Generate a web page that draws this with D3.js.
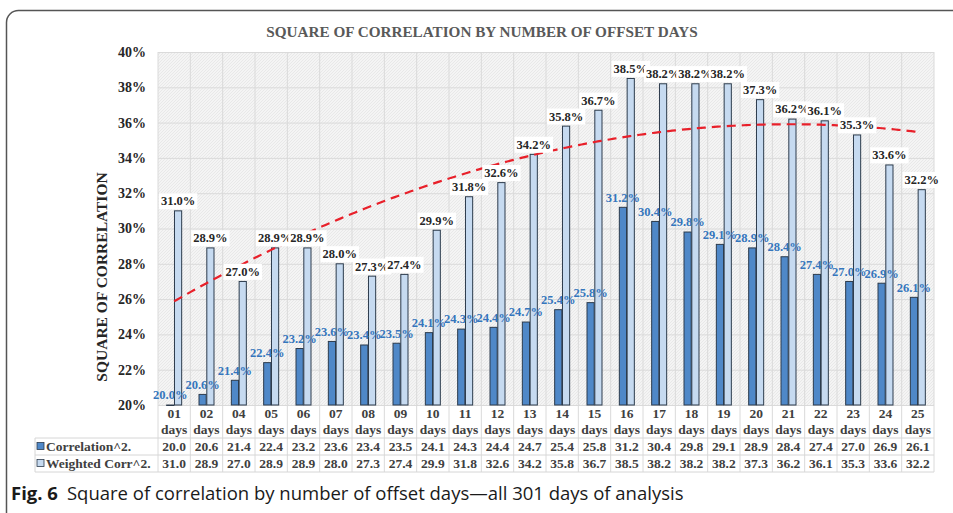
<!DOCTYPE html>
<html>
<head>
<meta charset="utf-8">
<script src="https://cdn.jsdelivr.net/npm/d3@7"></script>
<style>
  body { margin: 0; background: #fff; }
  svg { display: block; }
  .serif { font-family: "Liberation Serif", "Times New Roman", serif; font-weight: bold; }
</style>
</head>
<body>
<script>
// offset days and the two series (percent)
const categories = ['01', '02', '04', '05', '06', '07', '08', '09', '10', '11', '12', '13',
  '14', '15', '16', '17', '18', '19', '20', '21', '22', '23', '24', '25']
const correlation = [20.0, 20.6, 21.4, 22.4, 23.2, 23.6, 23.4, 23.5, 24.1, 24.3, 24.4, 24.7,
  25.4, 25.8, 31.2, 30.4, 29.8, 29.1, 28.9, 28.4, 27.4, 27.0, 26.9, 26.1]
const weighted = [31.0, 28.9, 27.0, 28.9, 28.9, 28.0, 27.3, 27.4, 29.9, 31.8, 32.6, 34.2,
  35.8, 36.7, 38.5, 38.2, 38.2, 38.2, 37.3, 36.2, 36.1, 35.3, 33.6, 32.2]
const yTicks = [20, 22, 24, 26, 28, 30, 32, 34, 36, 38, 40]
const seriesNames = ['Correlation^2.', 'Weighted Corr^2.']

const DARK = '#4f88c8'
const LIGHT = '#c6daf0'
const EDGE = '#2c3b4c'

const width = 953
const height = 513
const plot = { left: 158, right: 934, top: 52, bottom: 405 }

const svg = d3.select('body').append('svg')
  .attr('width', width)
  .attr('height', height)

// frame
svg.append('rect')
  .attr('x', 6.5).attr('y', 10.5)
  .attr('width', 980).attr('height', 520)
  .attr('rx', 12)
  .attr('fill', 'none')
  .attr('stroke', '#555')
  .attr('stroke-width', 1.5)

// hatch for plot background
const defs = svg.append('defs')
const pat = defs.append('pattern')
  .attr('id', 'hatch')
  .attr('patternUnits', 'userSpaceOnUse')
  .attr('width', 3).attr('height', 3)
pat.append('rect').attr('width', 3).attr('height', 3).attr('fill', '#f4f4f4')
pat.append('path').attr('d', 'M0,3 L3,0').attr('stroke', '#e4e4e4').attr('stroke-width', 0.8)

const x = d3.scaleBand().domain(categories).range([plot.left, plot.right])
const sub = d3.scaleBand().domain(seriesNames)
  .range([x.bandwidth() / 2 - 7.5, x.bandwidth() / 2 + 7.5])
  .paddingInner(0.08)
const y = d3.scaleLinear().domain([20, 40]).range([plot.bottom, plot.top])

svg.append('rect')
  .attr('x', plot.left).attr('y', plot.top)
  .attr('width', plot.right - plot.left).attr('height', plot.bottom - plot.top)
  .attr('fill', 'url(#hatch)')

// grid
svg.append('g')
  .attr('transform', `translate(${plot.left},0)`)
  .call(d3.axisLeft(y).tickValues(yTicks).tickSize(-(plot.right - plot.left)).tickFormat(''))
  .call(g => g.select('.domain').remove())
  .selectAll('line').attr('stroke', '#dadada')

svg.append('g')
  .selectAll('line')
  .data(categories.concat(['end']))
  .enter().append('line')
    .attr('x1', (d, i) => plot.left + i * x.bandwidth())
    .attr('x2', (d, i) => plot.left + i * x.bandwidth())
    .attr('y1', plot.top)
    .attr('y2', 472)
    .attr('stroke', '#dadada')

// y axis labels
svg.append('g')
  .attr('class', 'serif')
  .attr('transform', `translate(${plot.left},0)`)
  .call(d3.axisLeft(y).tickValues(yTicks).tickSize(0).tickPadding(12).tickFormat(d => d + '%'))
  .call(g => g.select('.domain').remove())
  .selectAll('text')
    .attr('font-family', '"Liberation Serif", serif')
    .attr('font-weight', 'bold')
    .attr('font-size', 14)
    .attr('fill', '#262626')

svg.append('text')
  .attr('class', 'serif')
  .attr('transform', 'translate(107,277) rotate(-90)')
  .attr('text-anchor', 'middle')
  .attr('font-size', 15.5)
  .attr('fill', '#262626')
  .text('SQUARE OF CORRELATION')

// title
svg.append('text')
  .attr('class', 'serif')
  .attr('x', 482).attr('y', 37)
  .attr('text-anchor', 'middle')
  .attr('font-size', 15.2)
  .attr('fill', '#595959')
  .text('SQUARE OF CORRELATION BY NUMBER OF OFFSET DAYS')

// bars
const bars = svg.append('g')
bars.selectAll('rect.dark')
  .data(correlation)
  .enter().append('rect')
    .attr('class', 'dark')
    .attr('x', (d, i) => x(categories[i]) + sub(seriesNames[0]))
    .attr('y', d => y(d))
    .attr('width', sub.bandwidth())
    .attr('height', d => Math.max(0.5, y(20) - y(d)))
    .attr('fill', DARK)
    .attr('stroke', EDGE)
    .attr('stroke-width', 1)

bars.selectAll('rect.light')
  .data(weighted)
  .enter().append('rect')
    .attr('class', 'light')
    .attr('x', (d, i) => x(categories[i]) + sub(seriesNames[1]))
    .attr('y', d => y(d))
    .attr('width', sub.bandwidth())
    .attr('height', d => y(20) - y(d))
    .attr('fill', LIGHT)
    .attr('stroke', EDGE)
    .attr('stroke-width', 1)

// polynomial (order 2) trendline of weighted series, like excel
function quadFit(ys) {
  let s = [0, 0, 0, 0, 0], t = [0, 0, 0]
  ys.forEach((v, i) => {
    const xi = i + 1
    for (let k = 0; k < 5; k++) s[k] += Math.pow(xi, k)
    for (let k = 0; k < 3; k++) t[k] += v * Math.pow(xi, k)
  })
  const A = [[s[0], s[1], s[2], t[0]], [s[1], s[2], s[3], t[1]], [s[2], s[3], s[4], t[2]]]
  for (let c = 0; c < 3; c++) {
    for (let r = c + 1; r < 3; r++) {
      const f = A[r][c] / A[c][c]
      for (let k = c; k < 4; k++) A[r][k] -= f * A[c][k]
    }
  }
  const b = [0, 0, 0]
  for (let r = 2; r >= 0; r--) {
    let sum = A[r][3]
    for (let k = r + 1; k < 3; k++) sum -= A[r][k] * b[k]
    b[r] = sum / A[r][r]
  }
  return b
}
const coef = quadFit(weighted)
const trend = d3.range(0, categories.length - 1 + 0.001, 0.1).map(t => {
  const xi = t + 1
  return [plot.left + (t + 0.5) * x.bandwidth(), coef[0] + coef[1] * xi + coef[2] * xi * xi]
})
svg.append('path')
  .datum(trend)
  .attr('fill', 'none')
  .attr('stroke', '#e8202a')
  .attr('stroke-width', 2.2)
  .attr('stroke-dasharray', '9,6')
  .attr('d', d3.line().x(d => d[0]).y(d => y(d[1])))

// data labels
const lab = svg.append('g').attr('class', 'serif').attr('font-size', 12.5)

const lightLab = lab.selectAll('g.ll')
  .data(weighted)
  .enter().append('g')
    .attr('class', 'll')
    .attr('transform', (d, i) => `translate(${x(categories[i]) + sub(seriesNames[1]) + sub.bandwidth() / 2},${y(d) - 10})`)
lightLab.append('text')
  .attr('text-anchor', 'middle')
  .attr('dy', '0.35em')
  .attr('fill', '#262626')
  .text(d => d.toFixed(1) + '%')
lightLab.each(function () {
  const t = d3.select(this).select('text')
  const bb = t.node().getBBox()
  d3.select(this).insert('rect', 'text')
    .attr('x', bb.x - 2).attr('y', bb.y - 1)
    .attr('width', bb.width + 4).attr('height', bb.height + 2)
    .attr('fill', '#fff')
})

lab.selectAll('text.dl')
  .data(correlation)
  .enter().append('text')
    .attr('class', 'dl')
    .attr('x', (d, i) => x(categories[i]) + sub(seriesNames[0]) + sub.bandwidth() / 2)
    .attr('y', d => y(d) - 10)
    .attr('dy', '0.35em')
    .attr('text-anchor', 'middle')
    .attr('fill', '#3576bd')
    .text(d => d.toFixed(1) + '%')

// data table under the plot
const table = svg.append('g').attr('class', 'serif').attr('font-size', 13.5).attr('fill', '#404040')
const rowY = [438, 455, 472]
const lineColor = '#d6d6d6'

table.selectAll('line.h')
  .data(rowY)
  .enter().append('line')
    .attr('x1', 35).attr('x2', plot.right)
    .attr('y1', d => d).attr('y2', d => d)
    .attr('stroke', lineColor)
table.append('line')
  .attr('x1', 35).attr('x2', 35).attr('y1', rowY[0]).attr('y2', rowY[2])
  .attr('stroke', lineColor)

table.selectAll('text.cat')
  .data(categories)
  .enter().append('text')
    .attr('x', d => x(d) + x.bandwidth() / 2)
    .attr('y', 418)
    .attr('text-anchor', 'middle')
    .text(d => d)
table.selectAll('text.days')
  .data(categories)
  .enter().append('text')
    .attr('x', d => x(d) + x.bandwidth() / 2)
    .attr('y', 434)
    .attr('text-anchor', 'middle')
    .text('days')

;[correlation, weighted].forEach((vals, r) => {
  table.selectAll(null)
    .data(vals)
    .enter().append('text')
      .attr('x', (d, i) => x(categories[i]) + x.bandwidth() / 2)
      .attr('y', rowY[r] + 12.5)
      .attr('text-anchor', 'middle')
      .text(d => d.toFixed(1))
  table.append('rect')
    .attr('x', 37).attr('y', rowY[r] + 4.5)
    .attr('width', 7).attr('height', 7)
    .attr('fill', r === 0 ? DARK : LIGHT)
    .attr('stroke', EDGE).attr('stroke-width', 0.8)
  table.append('text')
    .attr('x', 46).attr('y', rowY[r] + 12.5)
    .text(seriesNames[r])
})

// caption
const cap = svg.append('text')
  .attr('x', 11).attr('y', 500)
  .attr('font-family', '"Open Sans", "Noto Sans", sans-serif')
  .attr('font-size', 18.5)
  .attr('fill', '#1a1a1a')
cap.append('tspan').attr('font-weight', 'bold').text('Fig. 6')
cap.append('tspan').attr('dx', 9).text('Square of correlation by number of offset days\u2014all 301 days of analysis')
</script>
</body>
</html>
